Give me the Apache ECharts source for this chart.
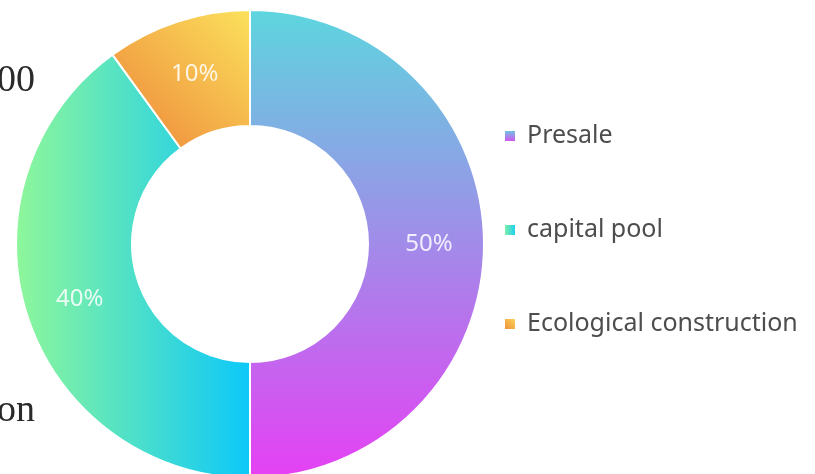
<!DOCTYPE html>
<html>
<head>
<meta charset="utf-8">
<script src="https://cdn.jsdelivr.net/npm/echarts@6/dist/echarts.min.js"></script>
<style>html,body{margin:0;padding:0;background:#fff;}#c{width:815px;height:474px;}</style>
</head>
<body>
<div id="c"></div>
<script>
const categories = ['Presale', 'capital pool', 'Ecological construction'];
const values = [50, 40, 10];
const sideTexts = ['2000', 'Allocation'];

const gradients = [
  new echarts.graphic.LinearGradient(0, 0, 0, 1, [{offset: 0, color: '#5dd6de'}, {offset: 1, color: '#e640f4'}]),
  new echarts.graphic.LinearGradient(0, 0, 1, 0, [{offset: 0, color: '#8ff79a'}, {offset: 1, color: '#0cc8f9'}]),
  new echarts.graphic.LinearGradient(0, 1, 1, 0, [{offset: 0, color: '#ee8338'}, {offset: 1, color: '#fbe25c'}])
];

const chart = echarts.init(document.getElementById('c'));
chart.setOption({
  animation: false,
  legend: {
    orient: 'vertical',
    left: 498,
    top: 118,
    itemWidth: 12,
    itemHeight: 12,
    itemGap: 68,
    itemTextGap: 12,
    icon: 'rect',
    textStyle: {fontSize: 25, lineHeight: 26, color: '#4d4d4d', fontFamily: 'Noto Sans', padding: [0, 0, 0, 6]},
    data: categories
  },
  graphic: [
    {type: 'text', x: 35, y: 62, style: {text: sideTexts[0], font: '38px "Liberation Serif"', fill: '#2a2a2a', textAlign: 'right', textVerticalAlign: 'top'}},
    {type: 'text', x: 35, y: 392, style: {text: sideTexts[1], font: '38px "Liberation Serif"', fill: '#2a2a2a', textAlign: 'right', textVerticalAlign: 'top'}}
  ],
  series: [{
    type: 'pie',
    center: [250, 244],
    radius: [118, 234],
    startAngle: 90,
    clockwise: true,
    avoidLabelOverlap: false,
    itemStyle: {borderColor: '#fff', borderWidth: 2},
    label: {
      show: true,
      position: 'inner',
      formatter: '{d}%',
      color: 'rgba(255,255,255,0.85)',
      fontSize: 24,
      fontFamily: 'Noto Sans'
    },
    labelLine: {show: false},
    data: categories.map((n, i) => ({name: n, value: values[i], itemStyle: {color: gradients[i]}}))
  }]
});
</script>
</body>
</html>
